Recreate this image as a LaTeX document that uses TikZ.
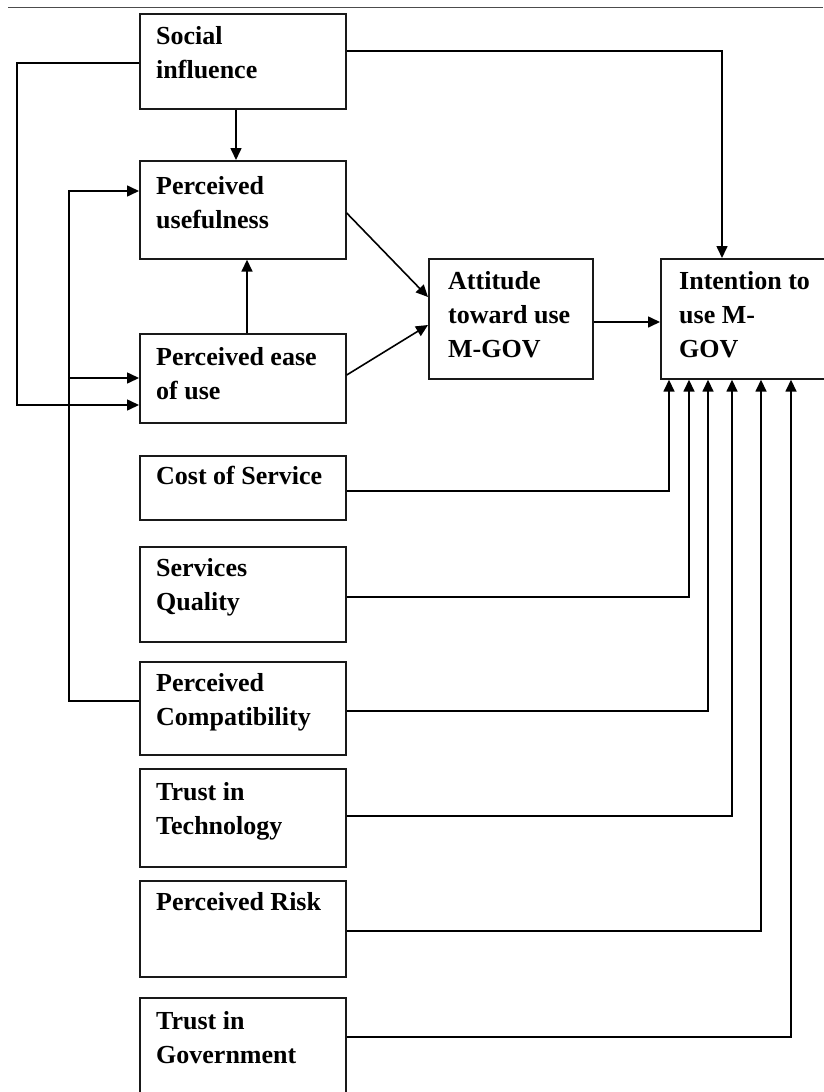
\documentclass[tikz,border=0pt]{standalone}
\usepackage{fontspec}
\setmainfont{Liberation Serif}
\usetikzlibrary{arrows.meta}
\begin{document}
\begin{tikzpicture}[x=1pt,y=-1pt,
  box/.style={draw=black!90, line width=1.7pt, rectangle, inner sep=0pt, anchor=north west},
  lbox/.style={box, minimum width=206pt},
  txt/.style={anchor=north west, inner sep=0pt, align=left, font=\fontsize{26}{34}\selectfont\bfseries},
  arr/.style={line width=1.6pt, -{Triangle[length=12pt,width=11pt]}},
  ln/.style={line width=1.6pt}]
\useasboundingbox (0,0) rectangle (823,1092);
\fill[white] (0,0) rectangle (823,1092);
% top rule
\coordinate (r1) at (8,7);
\coordinate (r2) at (823,7);
\draw[black!70, line width=1pt] (r1) -- (r2);

% boxes
\node[lbox, minimum height=95pt] (si) at (139,13) {};
\node[lbox, minimum height=98pt] (pu) at (139,160) {};
\node[lbox, minimum height=89pt] (peou) at (139,333) {};
\node[lbox, minimum height=64pt] (cs) at (139,455) {};
\node[lbox, minimum height=95pt] (sq) at (139,546) {};
\node[lbox, minimum height=93pt] (pc) at (139,661) {};
\node[lbox, minimum height=98pt] (tt) at (139,768) {};
\node[lbox, minimum height=96pt] (pr) at (139,880) {};
\node[lbox, minimum height=120pt] (tg) at (139,997) {};
\node[box, minimum width=164pt, minimum height=120pt] (att) at (428,258) {};
\node[box, minimum width=185pt, minimum height=120pt] (int) at (660,258) {};

% texts
\node[txt] (si-t) at ([shift={(17,13)}]si.north west) {Social\\influence};
\node[txt] (pu-t) at ([shift={(17,16)}]pu.north west) {Perceived\\usefulness};
\node[txt] (peou-t) at ([shift={(17,14)}]peou.north west) {Perceived ease\\of use};
\node[txt] (cs-t) at ([shift={(17,11)}]cs.north west) {Cost of Service};
\node[txt] (sq-t) at ([shift={(17,12)}]sq.north west) {Services\\Quality};
\node[txt] (pc-t) at ([shift={(17,12)}]pc.north west) {Perceived\\Compatibility};
\node[txt] (tt-t) at ([shift={(17,14)}]tt.north west) {Trust in\\Technology};
\node[txt] (pr-t) at ([shift={(17,12)}]pr.north west) {Perceived Risk};
\node[txt] (tg-t) at ([shift={(17,14)}]tg.north west) {Trust in\\Government};
\node[txt] (att-t) at ([shift={(20,13)}]att.north west) {Attitude\\toward use\\M-GOV};
\node[txt] (int-t) at ([shift={(19,13)}]int.north west) {Intention to\\use M-\\GOV};

% helper coordinates
\coordinate (k1) at (722,51);
\coordinate (v1) at (236,0);
\coordinate (v2) at (247,0);
\coordinate (L1a) at (17,63);
\coordinate (L1b) at (17,405);
\coordinate (L2a) at (69,701);
\coordinate (L2b) at (69,191);
\coordinate (L2c) at (69,378);
\coordinate (a1) at (0,213);
\coordinate (a2) at (0,297);
\coordinate (b1) at (0,375);
\coordinate (b2) at (0,325);
\coordinate (c1) at (0,322);
\coordinate (p1) at (669,491);
\coordinate (p2) at (689,597);
\coordinate (p3) at (708,711);
\coordinate (p4) at (732,816);
\coordinate (p5) at (761,931);
\coordinate (p6) at (791,1037);

% connectors
\draw[arr] (si.east |- k1) -- (k1) -- (int.north -| k1);
\draw[arr] (si.south -| v1) -- (pu.north -| v1);
\draw[arr] (peou.north -| v2) -- (pu.south -| v2);
\draw[arr] (si.west |- L1a) -- (L1a) -- (L1b) -- (peou.west |- L1b);
\draw[arr] (pc.west |- L2a) -- (L2a) -- (L2b) -- (pu.west |- L2b);
\draw[arr] (L2c) -- (peou.west |- L2c);
\draw[arr] (pu.east |- a1) -- (att.west |- a2);
\draw[arr] (peou.east |- b1) -- (att.west |- b2);
\draw[arr] (att.east |- c1) -- (int.west |- c1);
\draw[arr] (cs.east |- p1) -- (p1) -- (int.south -| p1);
\draw[arr] (sq.east |- p2) -- (p2) -- (int.south -| p2);
\draw[arr] (pc.east |- p3) -- (p3) -- (int.south -| p3);
\draw[arr] (tt.east |- p4) -- (p4) -- (int.south -| p4);
\draw[arr] (pr.east |- p5) -- (p5) -- (int.south -| p5);
\draw[arr] (tg.east |- p6) -- (p6) -- (int.south -| p6);
\end{tikzpicture}
\end{document}
